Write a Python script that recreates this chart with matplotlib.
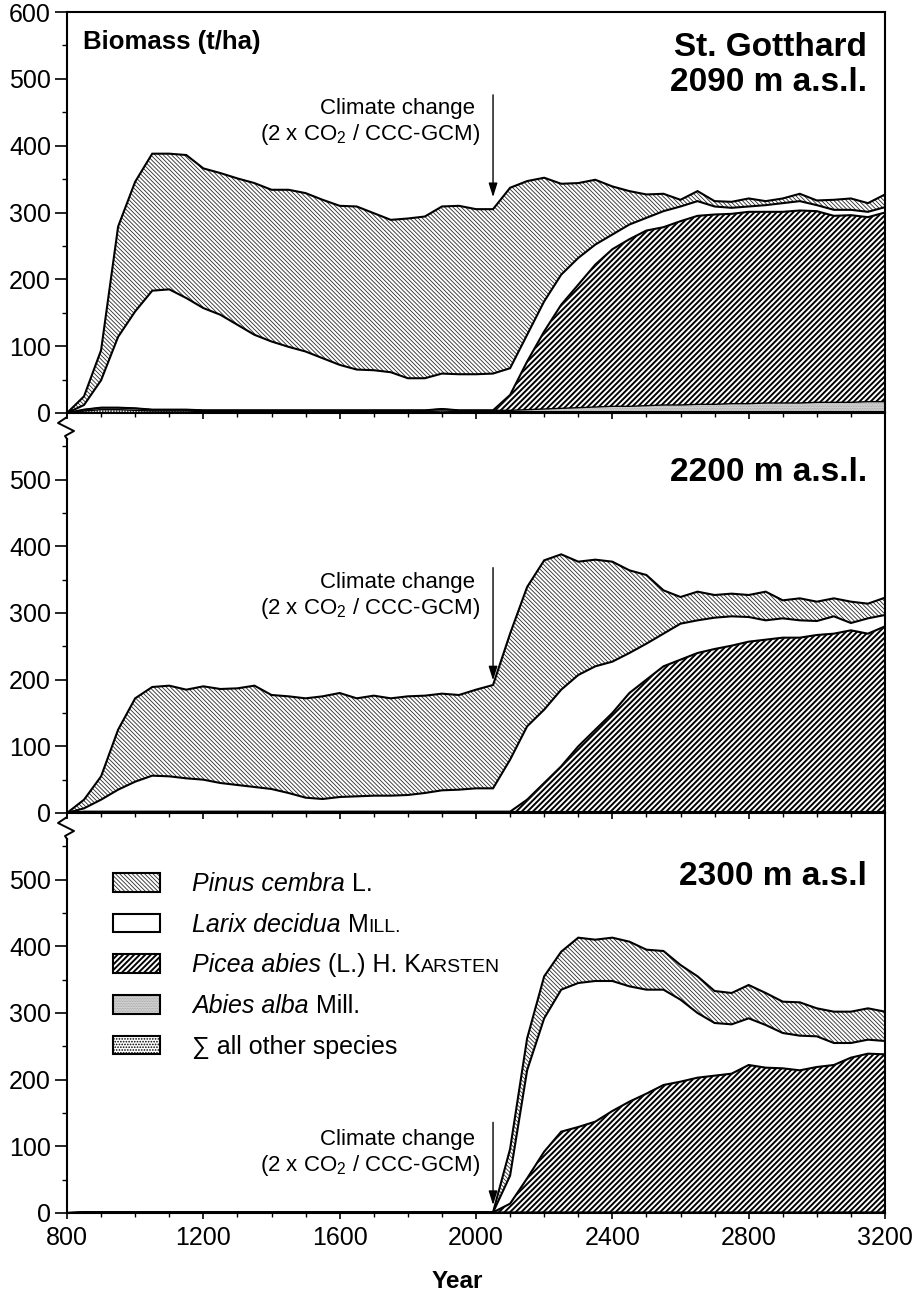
import numpy as np
import matplotlib
matplotlib.use('Agg')
import matplotlib.pyplot as plt
from matplotlib.patches import Rectangle
from matplotlib.lines import Line2D
from matplotlib.ticker import FixedLocator

plt.rcParams['font.family'] = ['Liberation Sans', 'DejaVu Sans']
plt.rcParams['mathtext.fontset'] = 'custom'
plt.rcParams['mathtext.rm'] = 'Liberation Sans'
plt.rcParams['mathtext.it'] = 'Liberation Sans:italic'
plt.rcParams['mathtext.bf'] = 'Liberation Sans:bold'

years = np.arange(800, 3201, 50)
z26 = [0] * 26  # vor 2100 keine Biomasse

# --- St. Gotthard 2090 m a.s.l. ---
other_2090 = [0, 3, 5, 5, 4, 3, 3, 3, 2, 2, 2, 2, 2, 2, 2, 2, 2, 2, 2, 2, 2, 2, 3, 2, 2, 2,
              2, 2, 2, 2, 2, 2, 2, 2, 2, 2, 2, 2, 2, 2, 2, 2, 2, 2, 2, 2, 2, 2, 2]
abies_2090 = [0, 2, 3, 3, 3, 2, 2, 2, 2, 2, 2, 2, 2, 2, 2, 2, 2, 2, 2, 2, 2, 2, 3, 2, 2, 2,
              2, 3, 4, 5, 6, 7, 8, 8, 9, 10, 10, 11, 11, 12, 12, 13, 13, 13, 14, 14, 14, 15, 15]
picea_2090 = z26 + [23, 72, 116, 155, 184, 213, 235, 250, 262, 266, 275, 282, 284, 284, 287,
                    286, 286, 288, 286, 279, 280, 276, 283]
larix_2090 = [0, 7, 41, 106, 145, 178, 180, 167, 153, 143, 128, 113, 103, 95, 88, 78, 68, 61,
              60, 57, 48, 48, 53, 54, 54, 55,
              40, 40, 45, 45, 40, 30, 22, 22, 19, 24, 22, 22, 12, 9, 8, 10, 13, 14, 9, 9, 8, 8, 8]
pinus_2090 = [0, 13, 45, 165, 194, 205, 203, 214, 209, 212, 219, 227, 227, 235, 237, 237, 238,
              244, 235, 228, 239, 242, 250, 252, 247, 246,
              270, 230, 185, 136, 112, 97, 72, 50, 35, 26, 10, 15, 8, 9, 12, 6, 7, 11, 7, 15, 17, 13, 19]

# --- 2200 m a.s.l. ---
other_2200 = [0] + [2] * 48
abies_2200 = [0] * 49
picea_2200 = z26 + [0, 18, 43, 68, 98, 123, 148, 178, 198, 218, 228, 238, 244, 249, 255, 258,
                    261, 261, 265, 267, 272, 267, 278]
larix_2200 = [0, 5, 18, 33, 45, 54, 53, 50, 48, 43, 40, 37, 34, 28, 21, 19, 22, 23, 24, 24, 25,
              28, 32, 33, 35, 35,
              78, 110, 110, 115, 107, 95, 77, 60, 54, 49, 54, 49, 47, 44, 37, 29, 29, 26, 21, 26, 11, 23, 17]
pinus_2200 = [0, 13, 35, 90, 125, 133, 136, 133, 140, 141, 145, 152, 141, 145, 149, 154, 156,
              147, 150, 146, 148, 146, 145, 142, 148, 155,
              189, 209, 224, 203, 170, 160, 150, 124, 103, 65, 40, 43, 34, 34, 33, 43, 27, 33, 29,
              27, 32, 22, 26]

# --- 2300 m a.s.l. ---
other_2300 = [0] + [1] * 48
abies_2300 = [0] * 49
picea_2300 = z26 + [13, 51, 91, 121, 128, 136, 152, 166, 178, 191, 196, 202, 205, 208, 221, 217,
                    216, 213, 218, 221, 232, 238, 237]
larix_2300 = z26 + [42, 162, 200, 213, 216, 211, 195, 173, 156, 143, 123, 97, 79, 74, 70, 64,
                    53, 52, 46, 33, 22, 21, 20]
pinus_2300 = z26 + [40, 48, 63, 57, 68, 62, 65, 67, 60, 58, 52, 55, 48, 47, 50, 48, 47, 50, 42,
                    47, 47, 47, 44]

panels = [
    [other_2090, abies_2090, picea_2090, larix_2090, pinus_2090],
    [other_2200, abies_2200, picea_2200, larix_2200, pinus_2200],
    [other_2300, abies_2300, picea_2300, larix_2300, pinus_2300],
]

# Schraffuren (von unten nach oben)
styles = [
    dict(fc='white', hatch='......', hc='black', hlw=0.8),                   # other
    dict(fc='#d6d6d6', hatch='..........', hc='#9a9a9a', hlw=0.5),           # Abies
    dict(fc='white', hatch='/' * 6, hc='black', hlw=1.4),                    # Picea
    dict(fc='white', hatch=None, hc='white', hlw=0.5),                       # Larix
    dict(fc='white', hatch='\\' * 8, hc='#2a2a2a', hlw=0.6),                 # Pinus
]


def hatched(ax, st, *args, kind='fill', **kw):
    with plt.rc_context({'hatch.linewidth': st['hlw']}):
        if kind == 'fill':
            art = ax.fill_between(*args, facecolor=st['fc'], edgecolor=st['hc'],
                                  hatch=st['hatch'], linewidth=0, **kw)
        else:
            art = Rectangle(*args, facecolor=st['fc'], edgecolor=st['hc'],
                            hatch=st['hatch'], linewidth=0, **kw)
            ax.add_patch(art)
    try:
        art.set_hatch_linewidth(st['hlw'])
    except AttributeError:
        pass
    return art


fig = plt.figure(figsize=(9.18, 12.97), dpi=100)
W, H = 918, 1297
left_px, right_px = 67, 885
tops_px = [12, 413, 813]
bots_px = [413, 813, 1213]
axes = []
for t, b in zip(tops_px, bots_px):
    ax = fig.add_axes([left_px / W, 1 - b / H, (right_px - left_px) / W, (b - t) / H])
    ax.patch.set_visible(False)
    axes.append(ax)

for i, (ax, layers) in enumerate(zip(axes, panels)):
    base = np.zeros(len(years))
    for lay, st in zip(layers, styles):
        top = base + np.array(lay, dtype=float)
        hatched(ax, st, years, base, top, zorder=1)
        lw = 1.0 if st is styles[0] or st is styles[1] else 1.5
        ax.plot(years, top, color='black', lw=lw, zorder=3, solid_joinstyle='miter')
        base = top

    ax.set_xlim(800, 3200)
    ax.set_ylim(0, 600)
    ax.xaxis.set_major_locator(FixedLocator(range(800, 3201, 400)))
    ax.xaxis.set_minor_locator(FixedLocator(range(900, 3200, 100)))
    ymax_major = 600 if i == 0 else 500
    ax.yaxis.set_major_locator(FixedLocator(range(0, ymax_major + 1, 100)))
    ax.yaxis.set_minor_locator(FixedLocator(range(50, 551, 100)))
    ax.tick_params(axis='x', which='major', direction='out', length=4.3, width=1.2, pad=5,
                   labelsize=18)
    ax.tick_params(axis='x', which='minor', direction='out', length=2.6, width=1.0)
    ax.tick_params(axis='y', which='major', direction='out', length=8.6, width=1.2, pad=3,
                   labelsize=18)
    ax.tick_params(axis='y', which='minor', direction='out', length=3.6, width=1.0)
    ax.tick_params(top=False, right=False, labelbottom=(i == 2))
    for sp in ax.spines.values():
        sp.set_linewidth(1.5)
    if i > 0:
        ax.spines['top'].set_visible(False)
        ax.spines['left'].set_bounds(0, 561)

# Achsenbruch-Zeichen
for jy in [413, 813]:
    xs = np.array([0, 0, -9, 7, -2, 0]) + left_px
    ys = (H - jy) - np.array([0, 4, 10, 18, 23, 26])
    fig.add_artist(Line2D(xs / W, ys / H, color='black', lw=1.4, transform=fig.transFigure))

# Klimawandel-Pfeile und Texte
arrows = [(476, 323), (368, 199), (136, 12)]
cc_lines = [(448, 409), (338, 299), (102, 63)]
for ax, (tail, tip), (y1, y2) in zip(axes, arrows, cc_lines):
    ax.annotate('', xy=(2050, tip), xytext=(2050, tail),
                arrowprops=dict(arrowstyle='-|>,head_length=0.7,head_width=0.22',
                                color='black', lw=1.0, mutation_scale=12,
                                shrinkA=0, shrinkB=0), zorder=5)
    ax.text(1997, y1, 'Climate change', ha='right', va='baseline', fontsize=16)
    ax.text(2012, y2, '(2 x CO$_2$ / CCC-GCM)', ha='right', va='baseline', fontsize=16)

# Beschriftungen
axes[0].text(847, 545, 'Biomass (t/ha)', ha='left', va='baseline', fontsize=18.5,
             fontweight='bold')
axes[0].text(3147, 534, 'St. Gotthard', ha='right', va='baseline', fontsize=24,
             fontweight='bold')
axes[0].text(3147, 482, '2090 m a.s.l.', ha='right', va='baseline', fontsize=24,
             fontweight='bold')
axes[1].text(3147, 498, '2200 m a.s.l.', ha='right', va='baseline', fontsize=24,
             fontweight='bold')
axes[2].text(3147, 492, '2300 m a.s.l', ha='right', va='baseline', fontsize=24,
             fontweight='bold')
fig.text(457 / W, 1 - 1281 / H, 'Year', ha='center', va='center', fontsize=17.5,
         fontweight='bold')

# Legende
renderer = fig.canvas.get_renderer()
FS = 18
SC = 14


def text_width(s, **kw):
    t = fig.text(0, 0, s, **kw)
    w = t.get_window_extent(renderer).width
    t.remove()
    return w * 72 / fig.dpi


space_w = text_width('a a', fontsize=FS) - text_width('aa', fontsize=FS)


def rich(ax, x, y, parts):
    dx = 0.0
    for s, kw, gap in parts:
        dx += space_w if gap else 0.0
        t = ax.annotate(s, xy=(x, y), xytext=(dx, 0), textcoords='offset points',
                        va='baseline', ha='left', **kw)
        dx += t.get_window_extent(renderer).width * 72 / fig.dpi


it = dict(fontsize=FS, style='italic')
rm = dict(fontsize=FS)
sc = dict(fontsize=SC)
legend_labels = [
    [('Pinus cembra', it, False), ('L.', rm, True)],
    [('Larix decidua', it, False), ('M', rm, True), ('ILL.', sc, False)],
    [('Picea abies', it, False), ('(L.) H. K', rm, True), ('ARSTEN', sc, False)],
    [('Abies alba', it, False), ('Mill.', rm, True)],
    [('\u2211 all other species', rm, False)],
]
legend_styles = [styles[4], styles[3], styles[2], styles[1], styles[0]]
legend_y = [482, 421, 360, 299, 238]
lax = axes[2]
for lab, st, yb in zip(legend_labels, legend_styles, legend_y):
    hatched(lax, st, (935, yb), 138, 28, kind='rect', zorder=4)
    lax.add_patch(Rectangle((935, yb), 138, 28, fill=False, edgecolor='black', lw=1.5,
                            zorder=5))
    rich(lax, 1167, yb + 1, lab)

fig.savefig('out.png', dpi=100)
